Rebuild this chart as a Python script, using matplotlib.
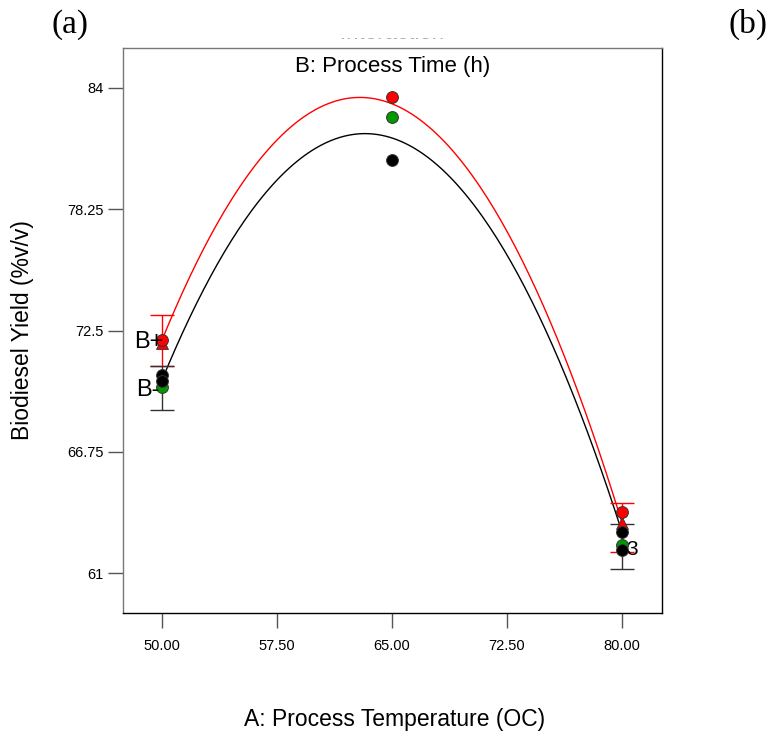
import matplotlib

matplotlib.use("Agg")
import matplotlib.pyplot as plt
import numpy as np
from matplotlib.patches import Rectangle

plt.rcParams.update(
    {
        "font.family": ["Liberation Sans", "DejaVu Sans"],
        "axes.linewidth": 1.0,
        "xtick.major.size": 11,
        "ytick.major.size": 11,
        "xtick.major.width": 1.0,
        "ytick.major.width": 1.0,
        "xtick.color": "#555555",
        "ytick.color": "#555555",
        "xtick.labelcolor": "black",
        "ytick.labelcolor": "black",
    }
)

# model curves (read at the x tick positions)
TEMP_LEVELS = [50.0, 57.5, 65.0, 72.5, 80.0]
FIT_HIGH = [72.05, 81.50, 83.30, 77.17, 63.40]
FIT_LOW = [70.15, 79.62, 81.65, 76.07, 62.95]

# design points
RED_X = [50, 65, 80]
RED_Y = [72.05, 83.57, 63.90]
GREEN_X = [50, 65, 80]
GREEN_Y = [69.82, 82.62, 62.35]
BLACK_X = [50, 50, 65, 80, 80]
BLACK_Y = [70.39, 70.11, 80.59, 62.95, 62.10]
TRI_X = [50, 80]
TRI_Y = [71.90, 63.37]

# LSD bars
BAR_X = [50, 80]
RED_BAR_LO = [70.82, 62.00]
RED_BAR_HI = [73.24, 64.32]
BLACK_BAR_LO = [68.73, 61.20]
BLACK_BAR_HI = [70.82, 63.33]

X_TICKS = [50.0, 57.5, 65.0, 72.5, 80.0]
Y_TICKS = [61.0, 66.75, 72.5, 78.25, 84.0]

fig = plt.figure(figsize=(7.7, 7.37), dpi=100)
ax = fig.add_axes([0.1597, 0.1682, 0.7, 0.7667])

xs = np.linspace(50, 80, 200)
ax.plot(xs, np.polyval(np.polyfit(TEMP_LEVELS, FIT_HIGH, 3), xs), color="red", lw=1.0, zorder=2)
ax.plot(xs, np.polyval(np.polyfit(TEMP_LEVELS, FIT_LOW, 3), xs), color="black", lw=1.0, zorder=2)


def lsd_bars(lo, hi, color):
    lo = np.array(lo)
    hi = np.array(hi)
    mid = (lo + hi) / 2
    ax.errorbar(BAR_X, mid, yerr=(hi - lo) / 2, fmt="none", ecolor=color,
                elinewidth=1.0, capsize=8.5, capthick=1.0, zorder=3)


lsd_bars(RED_BAR_LO, RED_BAR_HI, "red")
lsd_bars(BLACK_BAR_LO, BLACK_BAR_HI, "#333333")

ax.plot(TRI_X, TRI_Y, ls="none", marker="^", ms=8, color="red", mec="#333333", mew=0.6, zorder=4)
ax.plot(RED_X, RED_Y, ls="none", marker="o", ms=8.5, color="red", mec="#333333", mew=0.7, zorder=5)
ax.plot(GREEN_X, GREEN_Y, ls="none", marker="o", ms=8.5, color="#009900", mec="#333333", mew=0.7, zorder=5)
ax.plot(BLACK_X, BLACK_Y, ls="none", marker="o", ms=8.5, color="black", mec="#333333", mew=0.7, zorder=6)

ax.text(50.1, 71.95, "B+", fontsize=17, ha="right", va="center", zorder=7)
ax.text(49.85, 69.7, "B-", fontsize=17, ha="right", va="center", zorder=7)
ax.text(80.25, 62.1, "3", fontsize=15, ha="left", va="center", zorder=7)

ax.set_xlim(47.456, 82.609)
ax.set_ylim(59.103, 85.897)
ax.set_xticks(X_TICKS)
ax.set_xticklabels([f"{v:.2f}" for v in X_TICKS], fontsize=10.5)
ax.set_yticks(Y_TICKS)
ax.set_yticklabels(["61", "66.75", "72.5", "78.25", "84"], fontsize=10.5)
ax.tick_params(axis="x", pad=8)
ax.tick_params(axis="y", pad=3)

ax.spines["top"].set_color("#777777")
ax.spines["left"].set_color("#777777")
ax.spines["bottom"].set_color("black")
ax.spines["right"].set_color("black")

ax.text(0.5, 0.968, "B: Process Time (h)", transform=ax.transAxes, fontsize=16,
        ha="center", va="center")

fig.text(0.029, 0.552, "Biodiesel Yield (%v/v)", rotation=90, fontsize=16.5,
         ha="center", va="center")
fig.text(0.512, 0.024, "A: Process Temperature (OC)", fontsize=16.5,
         ha="center", va="center")

# chart title, mostly cut off at the top of the panel
fig.text(0.509, 0.955, "Interaction", fontsize=16, color="#aaaaaa", ha="center", va="center")
fig.patches.append(Rectangle((0.3, 0.9485), 0.4, 0.06, transform=fig.transFigure,
                             facecolor="white", edgecolor="none", zorder=10))

fig.text(0.091, 0.967, "(a)", family="Liberation Serif", fontsize=24, ha="center", va="center", zorder=11)
fig.text(0.972, 0.967, "(b)", family="Liberation Serif", fontsize=24, ha="center", va="center", zorder=11)

fig.savefig("out.png", dpi=100)
